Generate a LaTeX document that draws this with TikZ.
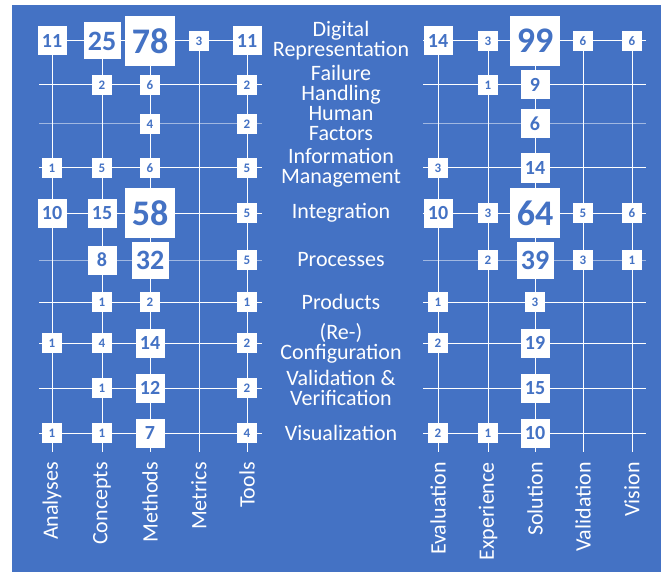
\documentclass[tikz,border=0pt]{standalone}
\usepackage{fontspec}
\setmainfont{Carlito}
\usepackage{tikz}

\definecolor{chartblue}{RGB}{68,114,196}

\tikzset{
  topic/.style={text=white, font=\fontsize{22}{20}\selectfont, align=center, inner sep=0pt},
  facet/.style={text=white, font=\fontsize{22}{22}\selectfont, rotate=90, anchor=east, inner sep=0pt},
  gridline/.style={draw=white, line width=1pt},
  faintline/.style={draw=white, draw opacity=0.5, line width=1pt},
  cellXS/.style={fill=white, text=chartblue, inner sep=0pt, minimum size=20pt, font=\bfseries\fontsize{13}{13}\selectfont},
  cellS/.style={fill=white, text=chartblue, inner sep=0pt, minimum size=29pt, font=\bfseries\fontsize{20}{20}\selectfont},
  cellM/.style={fill=white, text=chartblue, inner sep=0pt, minimum size=37pt, font=\bfseries\fontsize{28}{28}\selectfont},
  cellL/.style={fill=white, text=chartblue, inner sep=0pt, minimum size=50pt, font=\bfseries\fontsize{36}{36}\selectfont},
}

\begin{document}
\begin{tikzpicture}[x=1pt, y=-1pt]
    % Background
    \fill[white] (0,0) rectangle (663,572);
    \fill[chartblue] (12,5) rectangle (661,572);

    % Row labels
    \node (dr) [topic] at (341,41) {Digital\\Representation};
    \node (fh) [topic] at (341,85) {Failure\\Handling};
    \node (hf) [topic] at (341,124) {Human\\Factors};
    \node (im) [topic] at (341,168) {Information\\Management};
    \node (ig) [topic] at (341,213) {Integration};
    \node (pc) [topic] at (341,260) {Processes};
    \node (pd) [topic] at (341,302) {Products};
    \node (rc) [topic] at (341,343) {(Re-)\\Configuration};
    \node (vv) [topic] at (341,388) {Validation \&\\Verification};
    \node (vz) [topic] at (341,433) {Visualization};

    % Column labels
    \node (ana) [facet] at (52,462) {Analyses};
    \node (con) [facet] at (102,462) {Concepts};
    \node (met) [facet] at (150,462) {Methods};
    \node (mtr) [facet] at (199,462) {Metrics};
    \node (too) [facet] at (247,462) {Tools};
    \node (eva) [facet] at (438,462) {Evaluation};
    \node (exp) [facet] at (488,462) {Experience};
    \node (sol) [facet] at (535,462) {Solution};
    \node (val) [facet] at (583,462) {Validation};
    \node (vis) [facet] at (632,462) {Vision};

    % Grid ends
    \coordinate (l-start) at (39,0);
    \coordinate (l-end) at (262,0);
    \coordinate (r-start) at (423,0);
    \coordinate (r-end) at (646,0);
    \coordinate (grid-bot) at (0,452);

    % Grid lines
    \draw[gridline] (l-start |- dr) -- (l-end |- dr) (r-start |- dr) -- (r-end |- dr);
    \draw[gridline] (l-start |- fh) -- (l-end |- fh) (r-start |- fh) -- (r-end |- fh);
    \draw[faintline] (l-start |- hf) -- (l-end |- hf) (r-start |- hf) -- (r-end |- hf);
    \draw[gridline] (l-start |- im) -- (l-end |- im) (r-start |- im) -- (r-end |- im);
    \draw[gridline] (l-start |- ig) -- (l-end |- ig) (r-start |- ig) -- (r-end |- ig);
    \draw[faintline] (l-start |- pc) -- (l-end |- pc) (r-start |- pc) -- (r-end |- pc);
    \draw[gridline] (l-start |- pd) -- (l-end |- pd) (r-start |- pd) -- (r-end |- pd);
    \draw[gridline] (l-start |- rc) -- (l-end |- rc) (r-start |- rc) -- (r-end |- rc);
    \draw[gridline] (l-start |- vv) -- (l-end |- vv) (r-start |- vv) -- (r-end |- vv);
    \draw[gridline] (l-start |- vz) -- (l-end |- vz) (r-start |- vz) -- (r-end |- vz);

    \draw[gridline] (ana |- dr) -- (ana |- grid-bot);
    \draw[gridline] (con |- dr) -- (con |- grid-bot);
    \draw[gridline] (met |- dr) -- (met |- grid-bot);
    \draw[gridline] (mtr |- dr) -- (mtr |- grid-bot);
    \draw[gridline] (too |- dr) -- (too |- grid-bot);
    \draw[gridline] (eva |- dr) -- (eva |- grid-bot);
    \draw[gridline] (exp |- dr) -- (exp |- grid-bot);
    \draw[gridline] (sol |- dr) -- (sol |- grid-bot);
    \draw[gridline] (val |- dr) -- (val |- grid-bot);
    \draw[gridline] (vis |- dr) -- (vis |- grid-bot);

    % Digital Representation
    \node (dr-ana) [cellS] at (ana |- dr) {11};
    \node (dr-con) [cellM] at (con |- dr) {25};
    \node (dr-met) [cellL] at (met |- dr) {78};
    \node (dr-mtr) [cellXS] at (mtr |- dr) {3};
    \node (dr-too) [cellS] at (too |- dr) {11};
    \node (dr-eva) [cellS] at (eva |- dr) {14};
    \node (dr-exp) [cellXS] at (exp |- dr) {3};
    \node (dr-sol) [cellL] at (sol |- dr) {99};
    \node (dr-val) [cellXS] at (val |- dr) {6};
    \node (dr-vis) [cellXS] at (vis |- dr) {6};

    % Failure Handling
    \node (fh-con) [cellXS] at (con |- fh) {2};
    \node (fh-met) [cellXS] at (met |- fh) {6};
    \node (fh-too) [cellXS] at (too |- fh) {2};
    \node (fh-exp) [cellXS] at (exp |- fh) {1};
    \node (fh-sol) [cellS] at (sol |- fh) {9};

    % Human Factors
    \node (hf-met) [cellXS] at (met |- hf) {4};
    \node (hf-too) [cellXS] at (too |- hf) {2};
    \node (hf-sol) [cellS] at (sol |- hf) {6};

    % Information Management
    \node (im-ana) [cellXS] at (ana |- im) {1};
    \node (im-con) [cellXS] at (con |- im) {5};
    \node (im-met) [cellXS] at (met |- im) {6};
    \node (im-too) [cellXS] at (too |- im) {5};
    \node (im-eva) [cellXS] at (eva |- im) {3};
    \node (im-sol) [cellS] at (sol |- im) {14};

    % Integration
    \node (ig-ana) [cellS] at (ana |- ig) {10};
    \node (ig-con) [cellS] at (con |- ig) {15};
    \node (ig-met) [cellL] at (met |- ig) {58};
    \node (ig-too) [cellXS] at (too |- ig) {5};
    \node (ig-eva) [cellS] at (eva |- ig) {10};
    \node (ig-exp) [cellXS] at (exp |- ig) {3};
    \node (ig-sol) [cellL] at (sol |- ig) {64};
    \node (ig-val) [cellXS] at (val |- ig) {5};
    \node (ig-vis) [cellXS] at (vis |- ig) {6};

    % Processes
    \node (pc-con) [cellS] at (con |- pc) {8};
    \node (pc-met) [cellM] at (met |- pc) {32};
    \node (pc-too) [cellXS] at (too |- pc) {5};
    \node (pc-exp) [cellXS] at (exp |- pc) {2};
    \node (pc-sol) [cellM] at (sol |- pc) {39};
    \node (pc-val) [cellXS] at (val |- pc) {3};
    \node (pc-vis) [cellXS] at (vis |- pc) {1};

    % Products
    \node (pd-con) [cellXS] at (con |- pd) {1};
    \node (pd-met) [cellXS] at (met |- pd) {2};
    \node (pd-too) [cellXS] at (too |- pd) {1};
    \node (pd-eva) [cellXS] at (eva |- pd) {1};
    \node (pd-sol) [cellXS] at (sol |- pd) {3};

    % (Re-)Configuration
    \node (rc-ana) [cellXS] at (ana |- rc) {1};
    \node (rc-con) [cellXS] at (con |- rc) {4};
    \node (rc-met) [cellS] at (met |- rc) {14};
    \node (rc-too) [cellXS] at (too |- rc) {2};
    \node (rc-eva) [cellXS] at (eva |- rc) {2};
    \node (rc-sol) [cellS] at (sol |- rc) {19};

    % Validation & Verification
    \node (vv-con) [cellXS] at (con |- vv) {1};
    \node (vv-met) [cellS] at (met |- vv) {12};
    \node (vv-too) [cellXS] at (too |- vv) {2};
    \node (vv-sol) [cellS] at (sol |- vv) {15};

    % Visualization
    \node (vz-ana) [cellXS] at (ana |- vz) {1};
    \node (vz-con) [cellXS] at (con |- vz) {1};
    \node (vz-met) [cellS] at (met |- vz) {7};
    \node (vz-too) [cellXS] at (too |- vz) {4};
    \node (vz-eva) [cellXS] at (eva |- vz) {2};
    \node (vz-exp) [cellXS] at (exp |- vz) {1};
    \node (vz-sol) [cellS] at (sol |- vz) {10};
\end{tikzpicture}
\end{document}
